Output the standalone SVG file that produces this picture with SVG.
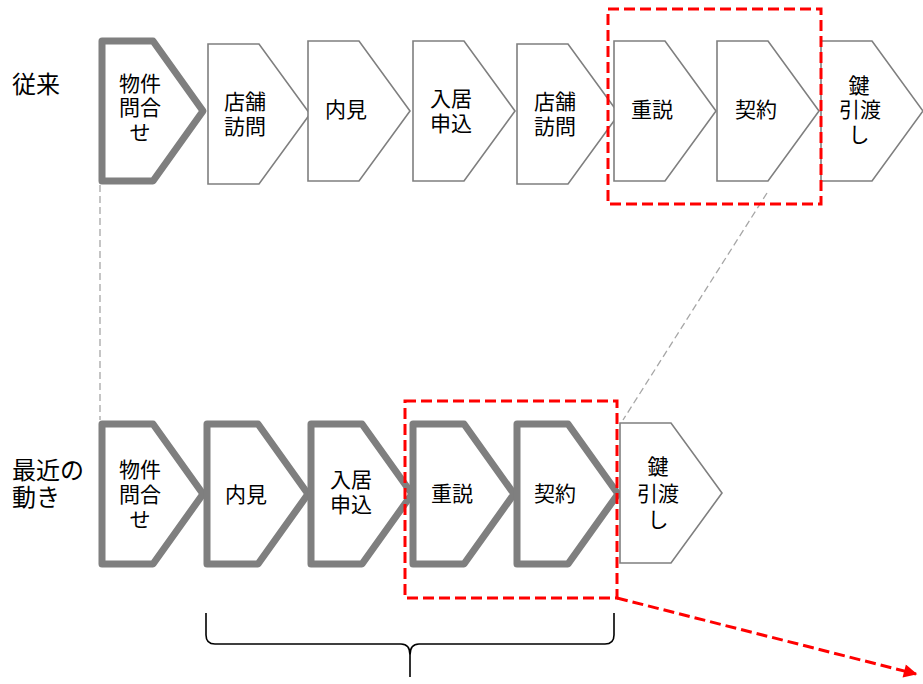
<svg xmlns="http://www.w3.org/2000/svg" xmlns:xlink="http://www.w3.org/1999/xlink" width="923" height="684" viewBox="0 0 923 684">
<style>
.thin{fill:#fff;stroke:#7f7f7f;stroke-width:1.6;stroke-linejoin:miter}
.thick{fill:#fff;stroke:#7f7f7f;stroke-width:7;stroke-linejoin:round}
.t{font-family:"Noto Sans CJK JP","Noto Sans",sans-serif;font-size:21px;fill:#000;text-anchor:middle;dominant-baseline:central}
.lbl{font-family:"Noto Sans CJK JP","Noto Sans",sans-serif;font-size:24px;fill:#000;dominant-baseline:central}
.red{fill:none;stroke:#ff0000;stroke-width:3;stroke-dasharray:11 5}
.guide{fill:none;stroke:#a6a6a6;stroke-width:1.3;stroke-dasharray:7 4}
.brace{fill:none;stroke:#000;stroke-width:1.6}
</style>
<defs>
<path id="chev" d="M0,0 H51 L102,70 L51,140 H0 Z"/>
<path id="chevT" d="M0,0 H51 L101,70 L51,140 H0 Z"/>
<marker id="ah" viewBox="0 0 10 10" refX="9" refY="5" markerWidth="5" markerHeight="4.5" orient="auto" markerUnits="strokeWidth">
<path d="M0,0 L10,5 L0,10 Z" fill="#ff0000"/>
</marker>
</defs>

<g id="row-labels">
<text class="lbl" x="12" y="82">従来</text>
<text class="lbl" x="12" y="468">最近の</text>
<text class="lbl" x="12" y="495">動き</text>
</g>

<g id="connectors">
<line class="guide" x1="100" y1="185" x2="100" y2="420"/>
<line class="guide" x1="767" y1="193" x2="623" y2="420"/>
</g>

<g id="top-1"><use href="#chevT" class="thick" x="102" y="41"/>
<text class="t" x="140" y="82">物件</text><text class="t" x="140" y="106">問合</text><text class="t" x="140" y="131">せ</text></g>
<g id="top-2"><use href="#chev" class="thin" x="208" y="44"/>
<text class="t" x="245" y="100">店舗</text><text class="t" x="245" y="125">訪問</text></g>
<g id="top-3"><use href="#chev" class="thin" x="308" y="41"/>
<text class="t" x="346" y="108">内見</text></g>
<g id="top-4"><use href="#chev" class="thin" x="413" y="41"/>
<text class="t" x="451" y="97">入居</text><text class="t" x="451" y="122">申込</text></g>
<g id="top-5"><use href="#chev" class="thin" x="517" y="44"/>
<text class="t" x="555" y="100">店舗</text><text class="t" x="555" y="125">訪問</text></g>
<g id="top-6"><use href="#chev" class="thin" x="614" y="41"/>
<text class="t" x="652" y="108">重説</text></g>
<g id="top-7"><use href="#chev" class="thin" x="717" y="41"/>
<text class="t" x="756" y="108">契約</text></g>
<g id="top-8"><use href="#chev" class="thin" x="821" y="41"/>
<text class="t" x="859" y="84">鍵</text><text class="t" x="860" y="108">引渡</text><text class="t" x="859" y="133">し</text></g>

<g id="bot-1"><use href="#chevT" class="thick" x="102" y="424"/>
<text class="t" x="140" y="468">物件</text><text class="t" x="140" y="493">問合</text><text class="t" x="140" y="518">せ</text></g>
<g id="bot-2"><use href="#chevT" class="thick" x="207" y="424"/>
<text class="t" x="246" y="493">内見</text></g>
<g id="bot-3"><use href="#chevT" class="thick" x="311" y="424"/>
<text class="t" x="351" y="478">入居</text><text class="t" x="351" y="503">申込</text></g>
<g id="bot-4"><use href="#chevT" class="thick" x="413" y="424"/>
<text class="t" x="452" y="492">重説</text></g>
<g id="bot-5"><use href="#chevT" class="thick" x="517" y="424"/>
<text class="t" x="555" y="492">契約</text></g>
<g id="bot-6"><use href="#chev" class="thin" x="620" y="423"/>
<text class="t" x="658" y="465">鍵</text><text class="t" x="658" y="492">引渡</text><text class="t" x="658" y="518">し</text></g>

<g id="highlights">
<rect class="red" x="608" y="9" width="213" height="195"/>
<rect class="red" x="405" y="401" width="212" height="197"/>
<line class="red" x1="617" y1="598" x2="916" y2="674" marker-end="url(#ah)"/>
</g>

<g id="brace">
<path class="brace" d="M206,613 V635 Q206,644 215,644 H401 Q410,644 410,655 V677 M410,655 Q410,644 419,644 H605 Q614,644 614,635 V613"/>
</g>
</svg>
